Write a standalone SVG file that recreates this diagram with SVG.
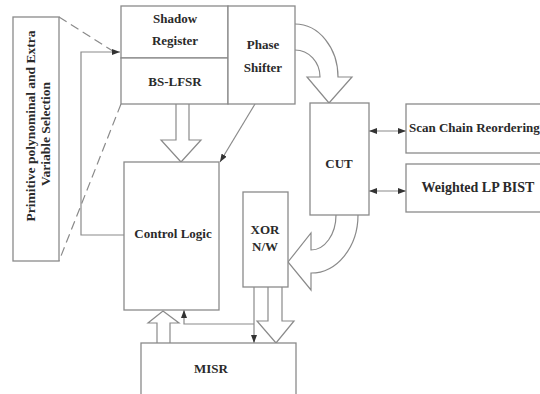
<svg xmlns="http://www.w3.org/2000/svg" width="540" height="394" viewBox="0 0 540 394">
<defs>
<style>
.box{fill:#fff;stroke:#8a8a8a;stroke-width:1.3}
.ln{fill:none;stroke:#8a8a8a;stroke-width:1.2}
.dash{fill:none;stroke:#8a8a8a;stroke-width:1.2;stroke-dasharray:9 5}
.hol{fill:#fff;stroke:#8a8a8a;stroke-width:1.2;stroke-linejoin:miter}
.t{font-family:"Liberation Serif","Times New Roman",serif;font-weight:bold;font-size:13px;fill:#2a2a2a;text-anchor:middle;dominant-baseline:central}
.big{font-size:14px}
.rot{font-size:13.5px}
</style>
<marker id="ah" viewBox="0 0 8 6" refX="8" refY="3" markerWidth="8" markerHeight="6" orient="auto" markerUnits="userSpaceOnUse">
<path d="M0,0 L8,3 L0,6 z" fill="#333"/>
</marker>
<marker id="as" viewBox="0 0 8 6" refX="0" refY="3" markerWidth="8" markerHeight="6" orient="auto" markerUnits="userSpaceOnUse">
<path d="M8,0 L0,3 L8,6 z" fill="#333"/>
</marker>
</defs>
<rect width="540" height="394" fill="#fff"/>

<g id="connectors">
<path class="dash" d="M59,17 L116,53"/>
<path class="dash" d="M121,104 L59,261"/>
<path class="ln" d="M124,235 L81,235 L81,52 L120,52" marker-end="url(#ah)"/>
<path class="ln" d="M255,104 L220,162" marker-end="url(#ah)"/>
<path class="ln" d="M369,131 L406,131" marker-start="url(#as)" marker-end="url(#ah)"/>
<path class="ln" d="M369,191 L406,191" marker-start="url(#as)" marker-end="url(#ah)"/>
<path class="ln" d="M254,287 L254,343" marker-end="url(#ah)"/>
<path class="ln" d="M254,324 L184,324 L184,310" marker-end="url(#ah)"/>
<path class="hol" d="M176,104 L176,140 L161,140 L181,162 L201,140 L189,140 L189,104"/>
<path class="hol" d="M295,24 A43,53 0 0 1 338,77 L352,77 L329,103 L307,77 L320,77 A25,27 0 0 0 295,50"/>
<path class="hol" d="M358,215 A47,58 0 0 1 311,273 L311,290 L288,262 L311,233 L311,250 A25,35 0 0 0 336,215"/>
<path class="hol" d="M268,287 L268,321 L257,321 L276,343 L294,321 L282,321 L282,287"/>
<path class="hol" d="M157,343 L157,323 L148,323 L163,311 L179,323 L170,323 L170,343"/>
</g>

<g id="selection">
<rect class="box" x="13" y="17" width="46" height="244"/>
<text class="t rot" transform="translate(30,126) rotate(-90)">Primitive polynominal and Extra</text>
<text class="t rot" transform="translate(45,134) rotate(-90)">Variable Selection</text>
</g>

<g id="shadow-register">
<rect class="box" x="121" y="6" width="107" height="52"/>
<text class="t" x="175" y="18">Shadow</text>
<text class="t" x="175" y="40">Register</text>
</g>

<g id="bs-lfsr">
<rect class="box" x="121" y="58" width="107" height="46"/>
<text class="t" x="175" y="81">BS-LFSR</text>
</g>

<g id="phase-shifter">
<rect class="box" x="228" y="6" width="67" height="98"/>
<text class="t" x="263" y="44">Phase</text>
<text class="t" x="263" y="67">Shifter</text>
</g>

<g id="control-logic">
<rect class="box" x="124" y="162" width="95" height="148"/>
<text class="t" x="173" y="233">Control Logic</text>
</g>

<g id="cut">
<rect class="box" x="310" y="103" width="59" height="112"/>
<text class="t" x="339" y="163">CUT</text>
</g>

<g id="scan-chain">
<rect class="box" x="406" y="104" width="140" height="49"/>
<text class="t" x="409" y="127" style="text-anchor:start">Scan Chain Reordering</text>
</g>

<g id="weighted-lp-bist">
<rect class="box" x="406" y="164" width="140" height="48"/>
<text class="t big" x="478" y="187">Weighted LP BIST</text>
</g>

<g id="xor">
<rect class="box" x="243" y="192" width="45" height="95"/>
<text class="t" x="265" y="229">XOR</text>
<text class="t" x="265" y="246">N/W</text>
</g>

<g id="misr">
<rect class="box" x="141" y="343" width="155" height="60"/>
<text class="t" x="211" y="368">MISR</text>
</g>
</svg>
